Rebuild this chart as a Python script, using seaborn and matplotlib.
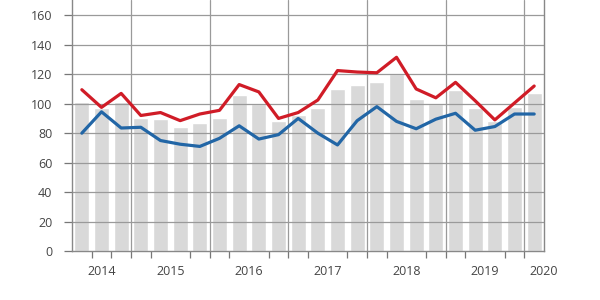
import matplotlib
matplotlib.use("Agg")
import matplotlib.pyplot as plt
import seaborn as sns
import numpy as np
import pandas as pd

# Quarterly data, 2014 Q2 .. 2020 Q1
quarters = ["2014Q2", "2014Q3", "2014Q4",
            "2015Q1", "2015Q2", "2015Q3", "2015Q4",
            "2016Q1", "2016Q2", "2016Q3", "2016Q4",
            "2017Q1", "2017Q2", "2017Q3", "2017Q4",
            "2018Q1", "2018Q2", "2018Q3", "2018Q4",
            "2019Q1", "2019Q2", "2019Q3", "2019Q4",
            "2020Q1"]
bars = [101, 97, 101, 90, 89.5, 84.5, 87, 90.5, 106, 100, 88, 92.5,
        97, 110, 113, 115, 120, 103, 99.5, 109, 97, 88, 98, 107]
red = [109.5, 97.5, 107, 92, 94, 88.5, 93, 95.5, 113, 108, 90, 94,
       102.5, 122.5, 121.5, 121, 131.5, 110, 104, 114.5, 102, 89, 100.5, 112]
blue = [80, 94.5, 83.5, 84, 75, 72.5, 71, 76.5, 85, 76, 79, 90,
        80, 72, 88.5, 98, 88, 83, 89.5, 93.5, 82, 84.5, 93, 93]
year_labels = ["2014", "2015", "2016", "2017", "2018", "2019", "2020"]
y_ticks = [0, 20, 40, 60, 80, 100, 120, 140, 160]

sns.set_theme(style="white")
plt.rcParams["font.family"] = ["Open Sans", "DejaVu Sans"]

n = len(quarters)
idx = np.arange(n)
df = pd.DataFrame({"pos": idx, "bars": bars, "red": red, "blue": blue})

fig = plt.figure(figsize=(6, 3), dpi=100)
ax = fig.add_axes([0.12, 0.1633, 0.7867, 0.8367])

sns.barplot(data=df, x="pos", y="bars", color="#d9d9d9", saturation=1,
            width=0.76, ax=ax, zorder=1)
sns.lineplot(data=df, x="pos", y="red", color="#d01c27", linewidth=2.3,
             ax=ax, zorder=3)
sns.lineplot(data=df, x="pos", y="blue", color="#2266a6", linewidth=2.3,
             ax=ax, zorder=3)

ax.set_xlim(-0.5, n - 0.5)
ax.set_ylim(0, 170.4)
ax.set_xlabel("")
ax.set_ylabel("")

# grid
grid_c = "#9a9a9a"
for v in y_ticks[1:]:
    ax.axhline(v, color=grid_c, lw=0.9, zorder=1.5)
# year boundaries: quarters index where Q1 starts
year_starts = [i for i, q in enumerate(quarters) if q.endswith("Q1")]
for i in year_starts:
    ax.axvline(i - 0.5, color=grid_c, lw=0.9, zorder=1.5)

# year label positions (middle of each year's quarters)
years = [q[:4] for q in quarters]
label_pos = []
for y in year_labels:
    pos = [i for i, yy in enumerate(years) if yy == y]
    if len(pos) == 1:
        label_pos.append(n - 0.5)
    else:
        label_pos.append((pos[0] + pos[-1]) / 2)

ax.set_xticks(label_pos)
ax.set_xticklabels(year_labels)
ax.set_xticks(np.arange(n) + 0.5, minor=True)
ax.tick_params(axis="x", which="major", length=0, pad=10, labelsize=9,
               labelcolor="#444444")
ax.tick_params(axis="x", which="minor", length=5, width=0.9, color="#777777",
               direction="out", bottom=True)
ax.set_yticks(y_ticks)
ax.set_yticklabels([str(v) for v in y_ticks])
ax.tick_params(axis="y", length=6, width=0.9, color="#777777", direction="out",
               left=True, labelsize=9, labelcolor="#444444", pad=8)

for s in ["left", "bottom", "right"]:
    ax.spines[s].set_visible(True)
    ax.spines[s].set_color("#888888")
    ax.spines[s].set_linewidth(1.0)
ax.spines["top"].set_visible(False)

fig.savefig("out.png", dpi=100)
